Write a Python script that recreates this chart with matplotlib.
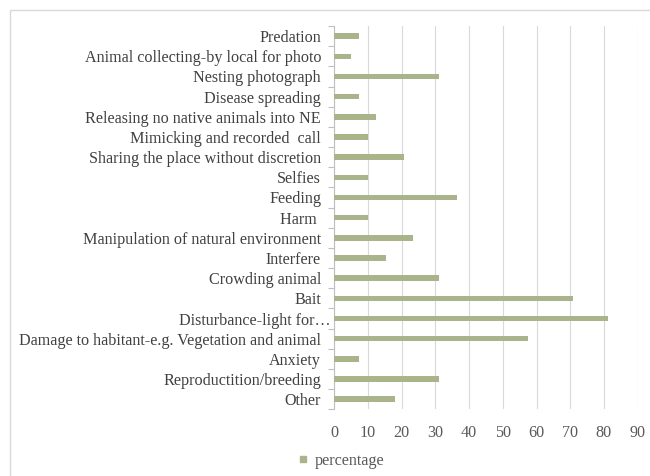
import matplotlib.pyplot as plt
from matplotlib.lines import Line2D
from matplotlib.patches import Rectangle
from matplotlib.transforms import ScaledTranslation

# categories listed bottom to top, as drawn on the y axis
categories = [
    "Other",
    "Reproductition/breeding",
    "Anxiety",
    "Damage to habitant-e.g. Vegetation and animal",
    "Disturbance-light for\u2026",
    "Bait",
    "Crowding animal",
    "Interfere",
    "Manipulation of natural environment",
    "Harm ",
    "Feeding",
    "Selfies",
    "Sharing the place without discretion",
    "Mimicking and recorded  call",
    "Releasing no native animals into NE",
    "Disease spreading",
    "Nesting photograph",
    "Animal collecting-by local for photo",
    "Predation",
]
percentage = [18.0, 31.2, 7.4, 57.6, 81.3, 70.8, 31.2, 15.4, 23.3, 10.0,
              36.5, 10.0, 20.8, 10.0, 12.5, 7.4, 31.2, 4.9, 7.4]
x_ticks = [0, 10, 20, 30, 40, 50, 60, 70, 80, 90]

BAR_COLOR = "#a9b48a"
GRID_COLOR = "#d9d9d9"
LABEL_COLOR = "#404040"
TICK_COLOR = "#595959"

plt.rcParams["font.family"] = ["Liberation Serif", "DejaVu Serif"]

fig = plt.figure(figsize=(6.5, 4.76), dpi=100)
# chart area outline (only the left and top edges fall inside the image)
fig.patches.append(Rectangle((10 / 650, -0.1), 1.2, 1 - 10 / 476 + 0.1,
                             transform=fig.transFigure, fill=False,
                             edgecolor=GRID_COLOR, linewidth=1.0))

ax = fig.add_axes([334.3 / 650, 1 - 409.3 / 476, (637.6 - 334.3) / 650, (409.3 - 26) / 476])

y = list(range(len(categories)))
ax.barh(y, percentage, height=0.27, color=BAR_COLOR, zorder=3)

ax.set_xlim(0, 90)
ax.set_ylim(-0.5, len(categories) - 0.5)
ax.set_xticks(x_ticks)
ax.set_xticklabels([str(v) for v in x_ticks])
ax.set_yticks(y)
ax.set_yticklabels(categories)
ax.set_yticks([i - 0.5 for i in range(len(categories) + 1)], minor=True)

ax.grid(axis="x", color=GRID_COLOR, linewidth=0.8, zorder=0)
for side in ["top", "right", "bottom"]:
    ax.spines[side].set_visible(False)
ax.spines["left"].set_color("#bfbfbf")
ax.spines["left"].set_linewidth(0.8)

ax.tick_params(axis="y", which="major", length=0, pad=9.5, labelsize=11.6, labelcolor=LABEL_COLOR)
ax.tick_params(axis="y", which="minor", length=4, width=0.8, color="#bfbfbf")
ax.tick_params(axis="x", length=0, pad=11, labelsize=11.6, labelcolor=TICK_COLOR)

# the truncated label runs right up to the axis
for lbl in ax.get_yticklabels():
    if lbl.get_text().endswith("\u2026"):
        lbl.set_transform(lbl.get_transform() + ScaledTranslation(0.1, 0, fig.dpi_scale_trans))

handle = Line2D([], [], linestyle="none", marker="s", markersize=4.5,
                markerfacecolor=BAR_COLOR, markeredgecolor=BAR_COLOR)
fig.legend([handle], ["percentage"], loc="center", bbox_to_anchor=(341 / 650, 1 - 460.7 / 476),
           frameon=False, fontsize=11.6, labelcolor=TICK_COLOR,
           handlelength=0.6, handletextpad=0.4)

fig.savefig("out.png", dpi=100)
